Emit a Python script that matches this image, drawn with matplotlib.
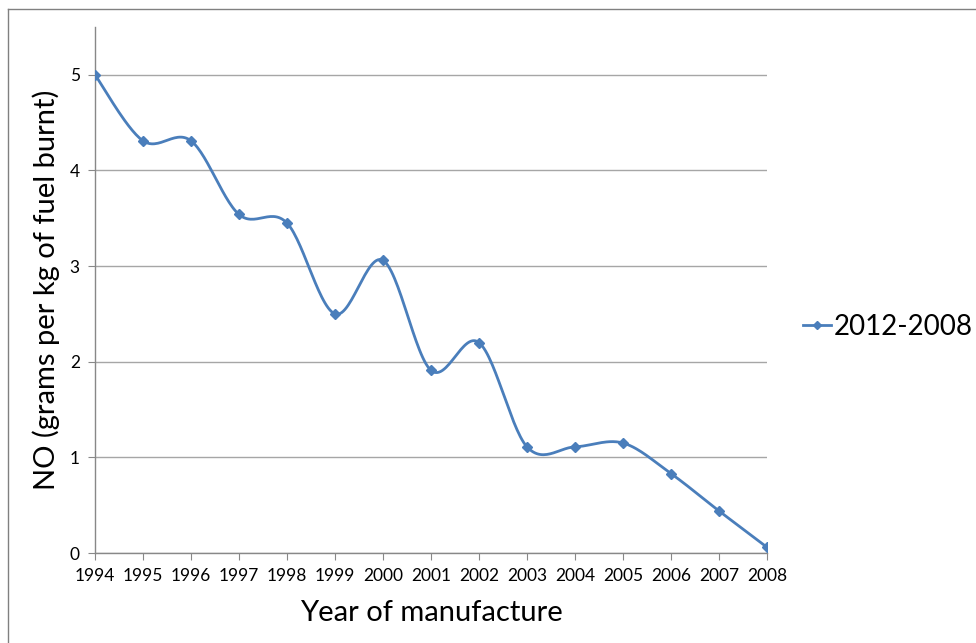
import numpy as np
import matplotlib.pyplot as plt
from matplotlib.lines import Line2D

years = ["1994", "1995", "1996", "1997", "1998", "1999", "2000", "2001",
         "2002", "2003", "2004", "2005", "2006", "2007", "2008"]
no_values = [5.0, 4.31, 4.31, 3.54, 3.45, 2.50, 3.06, 1.91,
             2.20, 1.11, 1.11, 1.15, 0.83, 0.44, 0.06]
series_name = "2012-2008"

BLUE = "#4a7ebb"
GREY = "#a6a6a6"
FONT = "Lato"


def smooth(x, y, n=30):
    # Excel-like smoothed line: Bezier segments with Catmull-Rom control points
    x = np.asarray(x, float)
    y = np.asarray(y, float)
    px = np.concatenate([[x[0]], x, [x[-1]]])
    py = np.concatenate([[y[0]], y, [y[-1]]])
    t = np.linspace(0, 1, n)
    xs, ys = [], []
    for i in range(1, len(px) - 2):
        p0 = np.array([px[i], py[i]])
        p3 = np.array([px[i + 1], py[i + 1]])
        c1 = p0 + (p3 - np.array([px[i - 1], py[i - 1]])) / 6
        c2 = p3 - (np.array([px[i + 2], py[i + 2]]) - p0) / 6
        b = ((1 - t) ** 3)[:, None] * p0 + (3 * (1 - t) ** 2 * t)[:, None] * c1 \
            + (3 * (1 - t) * t ** 2)[:, None] * c2 + (t ** 3)[:, None] * p3
        xs.append(b[:, 0])
        ys.append(b[:, 1])
    return np.concatenate(xs), np.concatenate(ys)


fig = plt.figure(figsize=(9.76, 6.43), dpi=100)
ax = fig.add_axes([95 / 976, 1 - 553 / 643, 672 / 976, 526 / 643])

x = np.arange(len(years))
sx, sy = smooth(x, no_values)
ax.plot(sx, sy, color=BLUE, lw=2.0, solid_capstyle="round", zorder=3)
ax.plot(x, no_values, linestyle="none", marker="D", ms=5, color=BLUE, zorder=4)

ax.set_xlim(0, len(years) - 1)
ax.set_ylim(0, 5.5)
ax.set_xticks(x)
ax.set_xticklabels(years)
ax.set_yticks([0, 1, 2, 3, 4, 5])
ax.yaxis.grid(True, color=GREY, lw=1)
ax.set_axisbelow(True)
for side in ["top", "right"]:
    ax.spines[side].set_visible(False)
for side in ["left", "bottom"]:
    ax.spines[side].set_color("#888888")
    ax.spines[side].set_linewidth(1)
ax.tick_params(axis="both", direction="out", length=5, color="#888888",
               labelsize=12.5, pad=6)
for lab in ax.get_xticklabels() + ax.get_yticklabels():
    lab.set_fontfamily(FONT)

ax.set_xlabel("Year of manufacture", fontsize=21, fontfamily=FONT, labelpad=11)
ax.set_ylabel("NO (grams per kg of fuel burnt)", fontsize=21, fontfamily=FONT,
              labelpad=7)

handle = Line2D([], [], color=BLUE, lw=2.0, marker="D", ms=4)
fig.legend([handle], [series_name], loc="center left",
           bbox_to_anchor=(803 / 976, 1 - 327 / 643), frameon=False,
           prop={"family": FONT, "size": 20}, handlelength=1.0,
           handletextpad=0.12, borderaxespad=0, borderpad=0)

# cropped chart-area border (top and left edges)
fig.add_artist(Line2D([8 / 976, 1], [1 - 9 / 643, 1 - 9 / 643],
                      color="#808080", lw=1, transform=fig.transFigure))
fig.add_artist(Line2D([8 / 976, 8 / 976], [0, 1 - 9 / 643],
                      color="#808080", lw=1, transform=fig.transFigure))

fig.savefig("out.png", dpi=100)
